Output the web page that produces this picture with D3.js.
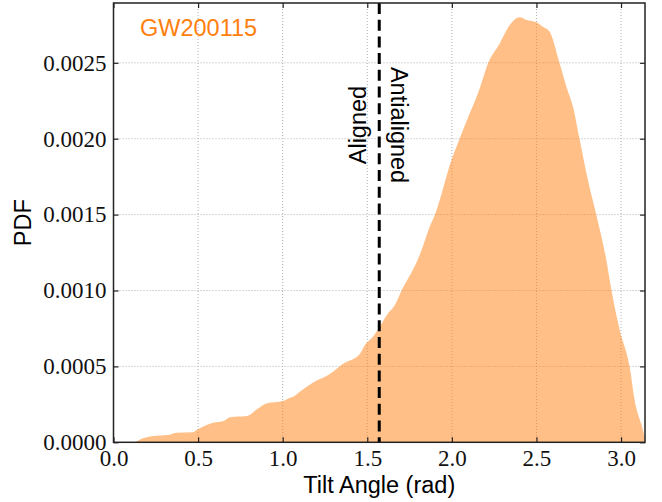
<!DOCTYPE html>
<html>
<head>
<meta charset="utf-8">
<script src="https://cdn.jsdelivr.net/npm/d3@7"></script>
<style>
  html, body { margin: 0; padding: 0; background: #fff; }
  svg { display: block; }
</style>
</head>
<body>
<svg id="chart" width="662" height="502"></svg>
<script>
// ---- data ----
const tiltAngle = [0.0, 0.10, 0.115, 0.174, 0.233, 0.322, 0.375, 0.470, 0.499, 0.588, 0.647, 0.688, 0.789, 0.848, 0.908, 1.001, 1.043, 1.062, 1.101, 1.178, 1.279, 1.355, 1.456, 1.486, 1.533, 1.574, 1.616, 1.663, 1.710, 1.769, 1.810, 1.869, 1.899, 1.998, 2.047, 2.106, 2.165, 2.214, 2.283, 2.342, 2.401, 2.441, 2.500, 2.537, 2.578, 2.637, 2.677, 2.716, 2.755, 2.804, 2.854, 2.913, 2.943, 2.992, 3.051, 3.080, 3.129, 3.1416];
const pdfValue = [0, 0, 0, 0.0000264, 0.0000415, 0.000048, 0.0000632, 0.0000659, 0.0000856, 0.000129, 0.000138, 0.000165, 0.000173, 0.000217, 0.000257, 0.000272, 0.000294, 0.000300, 0.000333, 0.000393, 0.000450, 0.000516, 0.000582, 0.000641, 0.000696, 0.000762, 0.000839, 0.000904, 0.001016, 0.001135, 0.001234, 0.001420, 0.001497, 0.001860, 0.002003, 0.002167, 0.002332, 0.002497, 0.002628, 0.002749, 0.002800, 0.002782, 0.002767, 0.002738, 0.002705, 0.002497, 0.002343, 0.002211, 0.001996, 0.001728, 0.001497, 0.001201, 0.001003, 0.000740, 0.000498, 0.000279, 0.000081, 0.00002];
const xTicks = [0.0, 0.5, 1.0, 1.5, 2.0, 2.5, 3.0];
const yTicks = [0.0000, 0.0005, 0.0010, 0.0015, 0.0020, 0.0025];
const eventLabel = "GW200115";
const xLabel = "Tilt Angle (rad)";
const yLabel = "PDF";
const dividerAngle = Math.PI / 2;

// ---- layout ----
const svg = d3.select("#chart");
const pL = 113.5, pR = 645, pT = 3, pB = 442.3;
const x = d3.scaleLinear().domain([0, Math.PI]).range([pL, pR]);
const y = d3.scaleLinear().domain([0, 0.002894]).range([pB, pT]);

const orange = "#ff7f0e";
const serif = "'Liberation Serif', 'Times New Roman', serif";
const sans = "'Liberation Sans', Arial, sans-serif";

// grid
const grid = svg.append("g");
grid.selectAll(".gx").data(xTicks.filter(d => d > 0)).enter().append("line")
  .attr("x1", d => x(d)).attr("x2", d => x(d)).attr("y1", pT).attr("y2", pB)
  .attr("stroke", "#b0b0b0").attr("stroke-width", 1).attr("stroke-dasharray", "1,2");
grid.selectAll(".gy").data(yTicks.filter(d => d > 0)).enter().append("line")
  .attr("x1", pL).attr("x2", pR).attr("y1", d => y(d)).attr("y2", d => y(d))
  .attr("stroke", "#b0b0b0").attr("stroke-width", 1).attr("stroke-dasharray", "1,2");

// filled density
const pts = tiltAngle.map((a, i) => [a, pdfValue[i]]);
const area = d3.area().x(d => x(d[0])).y0(y(0)).y1(d => y(d[1])).curve(d3.curveMonotoneX);
svg.append("path").datum(pts).attr("d", area).attr("fill", orange).attr("fill-opacity", 0.5);

// dividing line
svg.append("line")
  .attr("x1", x(dividerAngle)).attr("x2", x(dividerAngle)).attr("y1", pT).attr("y2", pB)
  .attr("stroke", "#000").attr("stroke-width", 3).attr("stroke-dasharray", "11,5.7");

// axes (ticks inward on all sides)
const tickLen = 5;
const axB = d3.axisBottom(x).tickValues(xTicks).tickSize(-tickLen).tickPadding(7).tickFormat(d3.format(".1f"));
const axT = d3.axisTop(x).tickValues(xTicks).tickSize(-tickLen).tickFormat("");
const axL = d3.axisLeft(y).tickValues(yTicks).tickSize(-tickLen).tickPadding(7).tickFormat(d3.format(".4f"));
const axR = d3.axisRight(y).tickValues(yTicks).tickSize(-tickLen).tickFormat("");

function style(g) {
  g.select(".domain").remove();
  g.selectAll(".tick line").attr("stroke", "#222").attr("stroke-width", 1.2);
  g.selectAll(".tick text").attr("fill", "#111").style("font-family", serif).style("font-size", "23px");
}
svg.append("g").attr("transform", `translate(0,${pB})`).call(axB).call(style);
svg.append("g").attr("transform", `translate(0,${pT})`).call(axT).call(style);
svg.append("g").attr("transform", `translate(${pL},0)`).call(axL).call(style);
svg.append("g").attr("transform", `translate(${pR},0)`).call(axR).call(style);

// frame
svg.append("rect").attr("x", pL).attr("y", pT).attr("width", pR - pL).attr("height", pB - pT)
  .attr("fill", "none").attr("stroke", "#222").attr("stroke-width", 1.5);

// texts
svg.append("text").attr("x", 140).attr("y", 36).text(eventLabel)
  .attr("fill", orange).style("font-family", sans).style("font-size", "23.5px");

const midY = y(0.00209);
svg.append("text").attr("transform", `translate(${x(dividerAngle) - 13},${midY}) rotate(-90)`)
  .attr("text-anchor", "middle").text("Aligned")
  .attr("fill", "#000").style("font-family", sans).style("font-size", "23.5px");
svg.append("text").attr("transform", `translate(${x(dividerAngle) + 12},${midY}) rotate(90)`)
  .attr("text-anchor", "middle").text("Antialigned")
  .attr("fill", "#000").style("font-family", sans).style("font-size", "23.5px");

svg.append("text").attr("x", (pL + pR) / 2).attr("y", 493).attr("text-anchor", "middle")
  .text(xLabel).attr("fill", "#000").style("font-family", sans).style("font-size", "23.5px");
svg.append("text").attr("transform", `translate(31,${(pT + pB) / 2}) rotate(-90)`)
  .attr("text-anchor", "middle").text(yLabel)
  .attr("fill", "#000").style("font-family", sans).style("font-size", "23.5px");
</script>
</body>
</html>
